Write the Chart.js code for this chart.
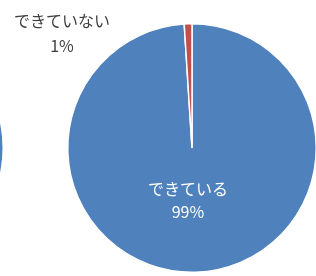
<!DOCTYPE html>
<html>
<head>
<meta charset="utf-8">
<script src="https://cdn.jsdelivr.net/npm/chart.js@4.4.1/dist/chart.umd.min.js"></script>
<style>
    html, body { margin: 0; padding: 0; background: #fff; }
    #wrap { position: relative; width: 316px; height: 276px; overflow: hidden; }
    #main-chart { position: absolute; left: 0; top: 0; }
    #side-chart { position: absolute; left: -246px; top: 23px; }
</style>
</head>
<body>
<div id="wrap">
    <canvas id="side-chart" width="250" height="250"></canvas>
    <canvas id="main-chart" width="330" height="276"></canvas>
</div>
<script>
// main pie
const labels = ['できている', 'できていない'];
const values = [99, 1];
const percentLabels = ['99%', '1%'];
const colors = ['#4F81BD', '#C0504D'];

// neighbouring pie, only its right edge shows
const sideLabels = ['できている', 'できていない'];
const sideValues = [99, 1];

const FONT = '"Noto Sans CJK JP", "Noto Sans", sans-serif';

const labelPlugin = {
    id: 'sliceLabels',
    afterDatasetsDraw(chart) {
        const ctx = chart.ctx;
        const meta = chart.getDatasetMeta(0);
        ctx.save();
        ctx.font = '16px ' + FONT;
        ctx.textAlign = 'center';
        ctx.textBaseline = 'middle';

        // big slice: label inside
        const big = meta.data[0];
        const pos = big.tooltipPosition();
        ctx.fillStyle = '#ffffff';
        ctx.fillText(labels[0], pos.x - 6, pos.y - 21);
        ctx.fillText(percentLabels[0], pos.x - 6, pos.y + 2);

        // small slice: label outside, up and to the left
        const small = meta.data[1];
        const top = small.y - small.outerRadius;
        ctx.fillStyle = '#404040';
        ctx.fillText(labels[1], small.x - 130, top - 3);
        ctx.fillText(percentLabels[1], small.x - 130, top + 22);
        ctx.restore();
    }
};

new Chart(document.getElementById('main-chart'), {
    type: 'pie',
    data: {
        labels: labels,
        datasets: [{
            data: values,
            backgroundColor: colors,
            borderColor: '#ffffff',
            borderWidth: 1.5
        }]
    },
    options: {
        responsive: false,
        animation: false,
        layout: { padding: { left: 67, right: 13, top: 22, bottom: 2 } },
        plugins: {
            legend: { display: false },
            tooltip: { enabled: false }
        }
    },
    plugins: [labelPlugin]
});

new Chart(document.getElementById('side-chart'), {
    type: 'pie',
    data: {
        labels: sideLabels,
        datasets: [{
            data: sideValues,
            backgroundColor: colors,
            borderColor: '#ffffff',
            borderWidth: 1.5
        }]
    },
    options: {
        responsive: false,
        animation: false,
        plugins: {
            legend: { display: false },
            tooltip: { enabled: false }
        }
    }
});
</script>
</body>
</html>
